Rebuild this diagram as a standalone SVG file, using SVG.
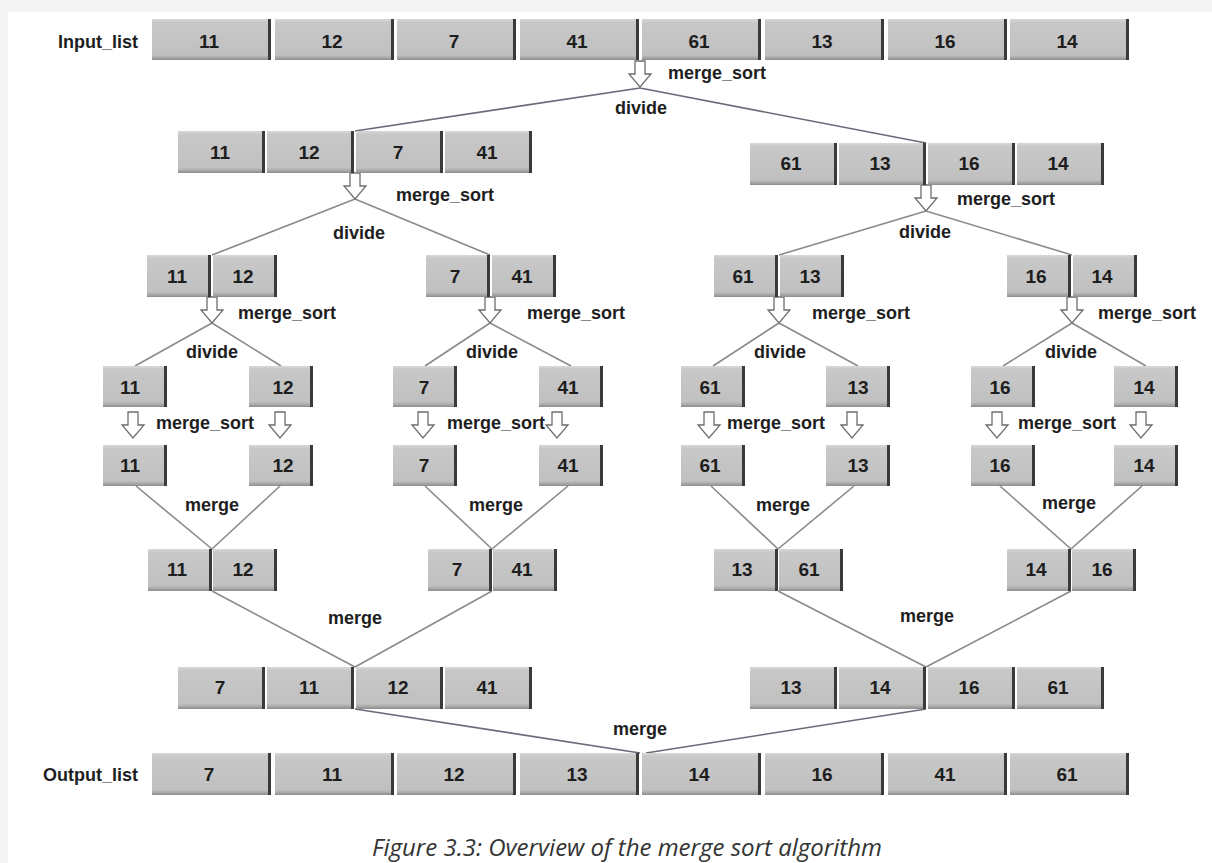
<svg xmlns="http://www.w3.org/2000/svg" xmlns:xlink="http://www.w3.org/1999/xlink" width="1212" height="863" viewBox="0 0 1212 863">
<style>
.c{fill:url(#g)}
.e{fill:#3a3a3a}
.n{font-family:"Liberation Sans",Arial,sans-serif;font-weight:bold;font-size:19px;fill:#1e1e1e;text-anchor:middle}
.l{font-family:"Liberation Sans",Arial,sans-serif;font-weight:bold;font-size:18px;fill:#1e1e1e}
.m{text-anchor:middle}
.ln{stroke:#8a8a8a;stroke-width:1.6;fill:none}
.ln2{stroke:#6a6a78;stroke-width:1.6;fill:none}
.a{fill:#fff;stroke:#6e6e6e;stroke-width:1.3}
.cap{font-family:"Open Sans","Noto Sans",sans-serif;font-style:italic;font-size:24px;fill:#333;text-anchor:middle}
</style>
<defs>
<linearGradient id="g" x1="0" y1="0" x2="0" y2="1">
<stop offset="0" stop-color="#d8d8d8"/>
<stop offset="0.08" stop-color="#c8c8c8"/>
<stop offset="0.88" stop-color="#c0c0c0"/>
<stop offset="0.95" stop-color="#a4a4a4"/>
<stop offset="1" stop-color="#8c8c8c"/>
</linearGradient>
<path id="arr" class="a" d="M-5,0 H5 V13 H11 L0,26 L-11,13 H-5 Z"/>
</defs>
<rect width="1212" height="863" fill="#f4f4f4"/>
<rect x="8" y="12" width="1204" height="851" fill="#fff"/>

<g id="connectors">
<line class="ln2" x1="640" y1="88" x2="355" y2="131"/>
<line class="ln2" x1="640" y1="88" x2="926" y2="143"/>
<line class="ln" x1="355" y1="199" x2="212" y2="255"/>
<line class="ln" x1="355" y1="199" x2="490" y2="255"/>
<line class="ln" x1="926" y1="211" x2="779" y2="255"/>
<line class="ln" x1="926" y1="211" x2="1072" y2="255"/>
<line class="ln" x1="212" y1="323" x2="135" y2="366"/>
<line class="ln" x1="212" y1="323" x2="281" y2="366"/>
<line class="ln" x1="490" y1="323" x2="425" y2="366"/>
<line class="ln" x1="490" y1="323" x2="571" y2="366"/>
<line class="ln" x1="779" y1="323" x2="713" y2="366"/>
<line class="ln" x1="779" y1="323" x2="858" y2="366"/>
<line class="ln" x1="1072" y1="323" x2="1003" y2="366"/>
<line class="ln" x1="1072" y1="323" x2="1146" y2="366"/>
<line class="ln" x1="136" y1="486" x2="212" y2="549"/>
<line class="ln" x1="280" y1="486" x2="212" y2="549"/>
<line class="ln" x1="425" y1="486" x2="492" y2="549"/>
<line class="ln" x1="568" y1="486" x2="492" y2="549"/>
<line class="ln" x1="711" y1="486" x2="778" y2="549"/>
<line class="ln" x1="854" y1="486" x2="778" y2="549"/>
<line class="ln" x1="1000" y1="486" x2="1071" y2="549"/>
<line class="ln" x1="1142" y1="486" x2="1071" y2="549"/>
<line class="ln" x1="212" y1="591" x2="355" y2="667"/>
<line class="ln" x1="492" y1="591" x2="355" y2="667"/>
<line class="ln" x1="778" y1="591" x2="926" y2="667"/>
<line class="ln" x1="1071" y1="591" x2="926" y2="667"/>
<line class="ln2" x1="355" y1="709" x2="640" y2="753"/>
<line class="ln2" x1="926" y1="709" x2="646" y2="753"/>
<use xlink:href="#arr" href="#arr" x="640" y="61"/>
<use xlink:href="#arr" href="#arr" x="355" y="173"/>
<use xlink:href="#arr" href="#arr" x="926" y="185"/>
<use xlink:href="#arr" href="#arr" x="212" y="297"/>
<use xlink:href="#arr" href="#arr" x="490" y="297"/>
<use xlink:href="#arr" href="#arr" x="779" y="297"/>
<use xlink:href="#arr" href="#arr" x="1072" y="297"/>
<use xlink:href="#arr" href="#arr" x="133" y="412"/>
<use xlink:href="#arr" href="#arr" x="280" y="412"/>
<use xlink:href="#arr" href="#arr" x="423" y="412"/>
<use xlink:href="#arr" href="#arr" x="557" y="412"/>
<use xlink:href="#arr" href="#arr" x="709" y="412"/>
<use xlink:href="#arr" href="#arr" x="852" y="412"/>
<use xlink:href="#arr" href="#arr" x="997" y="412"/>
<use xlink:href="#arr" href="#arr" x="1141" y="412"/>
<text class="l" x="668" y="79">merge_sort</text>
<text class="l m" x="641" y="114">divide</text>
<text class="l" x="396" y="201">merge_sort</text>
<text class="l" x="957" y="205">merge_sort</text>
<text class="l m" x="359" y="239">divide</text>
<text class="l m" x="925" y="238">divide</text>
<text class="l" x="238" y="319">merge_sort</text>
<text class="l" x="527" y="319">merge_sort</text>
<text class="l" x="812" y="319">merge_sort</text>
<text class="l" x="1098" y="319">merge_sort</text>
<text class="l m" x="212" y="358">divide</text>
<text class="l m" x="492" y="358">divide</text>
<text class="l m" x="780" y="358">divide</text>
<text class="l m" x="1071" y="358">divide</text>
<text class="l m" x="205" y="429">merge_sort</text>
<text class="l m" x="496" y="429">merge_sort</text>
<text class="l m" x="776" y="429">merge_sort</text>
<text class="l m" x="1067" y="429">merge_sort</text>
<text class="l m" x="212" y="511">merge</text>
<text class="l m" x="496" y="511">merge</text>
<text class="l m" x="783" y="511">merge</text>
<text class="l m" x="1069" y="509">merge</text>
<text class="l m" x="355" y="624">merge</text>
<text class="l m" x="927" y="622">merge</text>
<text class="l m" x="640" y="735">merge</text>
</g>

<g id="input_list">
<text class="l" x="138" y="48" text-anchor="end">Input_list</text>
<rect class="c" x="152" y="19" width="116" height="41"/><rect class="e" x="268" y="19" width="3" height="41"/><text class="n" x="209" y="48">11</text>
<rect class="c" x="275" y="19" width="116" height="41"/><rect class="e" x="391" y="19" width="3" height="41"/><text class="n" x="332" y="48">12</text>
<rect class="c" x="397" y="19" width="116" height="41"/><rect class="e" x="513" y="19" width="3" height="41"/><text class="n" x="454" y="48">7</text>
<rect class="c" x="520" y="19" width="116" height="41"/><rect class="e" x="636" y="19" width="3" height="41"/><text class="n" x="577" y="48">41</text>
<rect class="c" x="642" y="19" width="116" height="41"/><rect class="e" x="758" y="19" width="3" height="41"/><text class="n" x="699" y="48">61</text>
<rect class="c" x="765" y="19" width="116" height="41"/><rect class="e" x="881" y="19" width="3" height="41"/><text class="n" x="822" y="48">13</text>
<rect class="c" x="888" y="19" width="116" height="41"/><rect class="e" x="1004" y="19" width="3" height="41"/><text class="n" x="945" y="48">16</text>
<rect class="c" x="1010" y="19" width="116" height="41"/><rect class="e" x="1126" y="19" width="3" height="41"/><text class="n" x="1067" y="48">14</text>
</g>

<g id="left_half">
<rect class="c" x="178" y="131" width="84" height="42"/><rect class="e" x="262" y="131" width="3" height="42"/><text class="n" x="220" y="159">11</text>
<rect class="c" x="267" y="131" width="84" height="42"/><rect class="e" x="351" y="131" width="3" height="42"/><text class="n" x="309" y="159">12</text>
<rect class="c" x="356" y="131" width="84" height="42"/><rect class="e" x="440" y="131" width="3" height="42"/><text class="n" x="398" y="159">7</text>
<rect class="c" x="445" y="131" width="84" height="42"/><rect class="e" x="529" y="131" width="3" height="42"/><text class="n" x="487" y="159">41</text>
</g>

<g id="right_half">
<rect class="c" x="750" y="143" width="84" height="42"/><rect class="e" x="834" y="143" width="3" height="42"/><text class="n" x="791" y="170">61</text>
<rect class="c" x="839" y="143" width="84" height="42"/><rect class="e" x="923" y="143" width="3" height="42"/><text class="n" x="880" y="170">13</text>
<rect class="c" x="928" y="143" width="84" height="42"/><rect class="e" x="1012" y="143" width="3" height="42"/><text class="n" x="969" y="170">16</text>
<rect class="c" x="1017" y="143" width="84" height="42"/><rect class="e" x="1101" y="143" width="3" height="42"/><text class="n" x="1058" y="170">14</text>
</g>

<g id="q1">
<rect class="c" x="147" y="255" width="61" height="42"/><rect class="e" x="208" y="255" width="3" height="42"/><text class="n" x="177" y="283">11</text>
<rect class="c" x="213" y="255" width="61" height="42"/><rect class="e" x="274" y="255" width="3" height="42"/><text class="n" x="243" y="283">12</text>
</g>
<g id="q2">
<rect class="c" x="426" y="255" width="61" height="42"/><rect class="e" x="487" y="255" width="3" height="42"/><text class="n" x="455" y="283">7</text>
<rect class="c" x="492" y="255" width="61" height="42"/><rect class="e" x="553" y="255" width="3" height="42"/><text class="n" x="522" y="283">41</text>
</g>
<g id="q3">
<rect class="c" x="714" y="255" width="61" height="42"/><rect class="e" x="775" y="255" width="3" height="42"/><text class="n" x="743" y="283">61</text>
<rect class="c" x="780" y="255" width="61" height="42"/><rect class="e" x="841" y="255" width="3" height="42"/><text class="n" x="810" y="283">13</text>
</g>
<g id="q4">
<rect class="c" x="1007" y="255" width="61" height="42"/><rect class="e" x="1068" y="255" width="3" height="42"/><text class="n" x="1036" y="283">16</text>
<rect class="c" x="1073" y="255" width="61" height="42"/><rect class="e" x="1134" y="255" width="3" height="42"/><text class="n" x="1102" y="283">14</text>
</g>

<g id="singles_divided">
<rect class="c" x="103" y="366" width="61" height="41"/><rect class="e" x="164" y="366" width="3" height="41"/><text class="n" x="130" y="394">11</text>
<rect class="c" x="249" y="366" width="61" height="41"/><rect class="e" x="310" y="366" width="3" height="41"/><text class="n" x="283" y="394">12</text>
<rect class="c" x="393" y="366" width="61" height="41"/><rect class="e" x="454" y="366" width="3" height="41"/><text class="n" x="424" y="394">7</text>
<rect class="c" x="539" y="366" width="61" height="41"/><rect class="e" x="600" y="366" width="3" height="41"/><text class="n" x="568" y="394">41</text>
<rect class="c" x="681" y="366" width="61" height="41"/><rect class="e" x="742" y="366" width="3" height="41"/><text class="n" x="710" y="394">61</text>
<rect class="c" x="826" y="366" width="61" height="41"/><rect class="e" x="887" y="366" width="3" height="41"/><text class="n" x="858" y="394">13</text>
<rect class="c" x="971" y="366" width="61" height="41"/><rect class="e" x="1032" y="366" width="3" height="41"/><text class="n" x="1000" y="394">16</text>
<rect class="c" x="1114" y="366" width="61" height="41"/><rect class="e" x="1175" y="366" width="3" height="41"/><text class="n" x="1144" y="394">14</text>
</g>

<g id="singles_sorted">
<rect class="c" x="103" y="445" width="61" height="41"/><rect class="e" x="164" y="445" width="3" height="41"/><text class="n" x="130" y="472">11</text>
<rect class="c" x="249" y="445" width="61" height="41"/><rect class="e" x="310" y="445" width="3" height="41"/><text class="n" x="283" y="472">12</text>
<rect class="c" x="393" y="445" width="61" height="41"/><rect class="e" x="454" y="445" width="3" height="41"/><text class="n" x="424" y="472">7</text>
<rect class="c" x="539" y="445" width="61" height="41"/><rect class="e" x="600" y="445" width="3" height="41"/><text class="n" x="568" y="472">41</text>
<rect class="c" x="681" y="445" width="61" height="41"/><rect class="e" x="742" y="445" width="3" height="41"/><text class="n" x="710" y="472">61</text>
<rect class="c" x="826" y="445" width="61" height="41"/><rect class="e" x="887" y="445" width="3" height="41"/><text class="n" x="858" y="472">13</text>
<rect class="c" x="971" y="445" width="61" height="41"/><rect class="e" x="1032" y="445" width="3" height="41"/><text class="n" x="1000" y="472">16</text>
<rect class="c" x="1114" y="445" width="61" height="41"/><rect class="e" x="1175" y="445" width="3" height="41"/><text class="n" x="1144" y="472">14</text>
</g>

<g id="m1">
<rect class="c" x="148" y="549" width="61" height="42"/><rect class="e" x="209" y="549" width="3" height="42"/><text class="n" x="177" y="576">11</text>
<rect class="c" x="213" y="549" width="61" height="42"/><rect class="e" x="274" y="549" width="3" height="42"/><text class="n" x="243" y="576">12</text>
</g>
<g id="m2">
<rect class="c" x="428" y="549" width="61" height="42"/><rect class="e" x="489" y="549" width="3" height="42"/><text class="n" x="457" y="576">7</text>
<rect class="c" x="493" y="549" width="61" height="42"/><rect class="e" x="554" y="549" width="3" height="42"/><text class="n" x="522" y="576">41</text>
</g>
<g id="m3">
<rect class="c" x="714" y="549" width="61" height="42"/><rect class="e" x="775" y="549" width="3" height="42"/><text class="n" x="742" y="576">13</text>
<rect class="c" x="779" y="549" width="61" height="42"/><rect class="e" x="840" y="549" width="3" height="42"/><text class="n" x="809" y="576">61</text>
</g>
<g id="m4">
<rect class="c" x="1007" y="549" width="61" height="42"/><rect class="e" x="1068" y="549" width="3" height="42"/><text class="n" x="1036" y="576">14</text>
<rect class="c" x="1072" y="549" width="61" height="42"/><rect class="e" x="1133" y="549" width="3" height="42"/><text class="n" x="1102" y="576">16</text>
</g>

<g id="left_merged">
<rect class="c" x="178" y="667" width="84" height="42"/><rect class="e" x="262" y="667" width="3" height="42"/><text class="n" x="220" y="694">7</text>
<rect class="c" x="267" y="667" width="84" height="42"/><rect class="e" x="351" y="667" width="3" height="42"/><text class="n" x="309" y="694">11</text>
<rect class="c" x="356" y="667" width="84" height="42"/><rect class="e" x="440" y="667" width="3" height="42"/><text class="n" x="398" y="694">12</text>
<rect class="c" x="445" y="667" width="84" height="42"/><rect class="e" x="529" y="667" width="3" height="42"/><text class="n" x="487" y="694">41</text>
</g>

<g id="right_merged">
<rect class="c" x="750" y="667" width="84" height="42"/><rect class="e" x="834" y="667" width="3" height="42"/><text class="n" x="791" y="694">13</text>
<rect class="c" x="839" y="667" width="84" height="42"/><rect class="e" x="923" y="667" width="3" height="42"/><text class="n" x="880" y="694">14</text>
<rect class="c" x="928" y="667" width="84" height="42"/><rect class="e" x="1012" y="667" width="3" height="42"/><text class="n" x="969" y="694">16</text>
<rect class="c" x="1017" y="667" width="84" height="42"/><rect class="e" x="1101" y="667" width="3" height="42"/><text class="n" x="1058" y="694">61</text>
</g>

<g id="output_list">
<text class="l" x="138" y="781" text-anchor="end">Output_list</text>
<rect class="c" x="152" y="753" width="116" height="42"/><rect class="e" x="268" y="753" width="3" height="42"/><text class="n" x="209" y="781">7</text>
<rect class="c" x="275" y="753" width="116" height="42"/><rect class="e" x="391" y="753" width="3" height="42"/><text class="n" x="332" y="781">11</text>
<rect class="c" x="397" y="753" width="116" height="42"/><rect class="e" x="513" y="753" width="3" height="42"/><text class="n" x="454" y="781">12</text>
<rect class="c" x="520" y="753" width="116" height="42"/><rect class="e" x="636" y="753" width="3" height="42"/><text class="n" x="577" y="781">13</text>
<rect class="c" x="642" y="753" width="116" height="42"/><rect class="e" x="758" y="753" width="3" height="42"/><text class="n" x="699" y="781">14</text>
<rect class="c" x="765" y="753" width="116" height="42"/><rect class="e" x="881" y="753" width="3" height="42"/><text class="n" x="822" y="781">16</text>
<rect class="c" x="888" y="753" width="116" height="42"/><rect class="e" x="1004" y="753" width="3" height="42"/><text class="n" x="945" y="781">41</text>
<rect class="c" x="1010" y="753" width="116" height="42"/><rect class="e" x="1126" y="753" width="3" height="42"/><text class="n" x="1067" y="781">61</text>
</g>

<text class="cap" x="627" y="856">Figure 3.3: Overview of the merge sort algorithm</text>
</svg>
